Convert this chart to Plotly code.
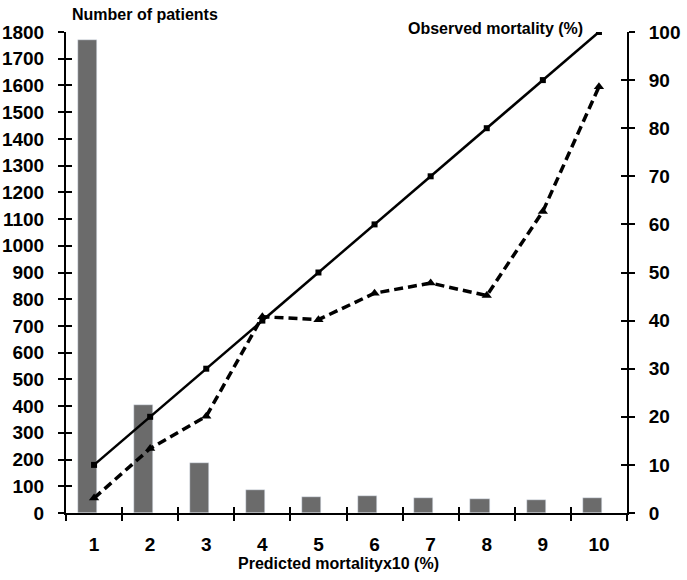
import plotly.graph_objects as go

categories = ["1", "2", "3", "4", "5", "6", "7", "8", "9", "10"]
patients = [1770, 404, 187, 87, 60, 65, 57, 53, 50, 57]
predicted = [10, 20, 30, 40, 50, 60, 70, 80, 90, 100]
observed = [3.1, 13.4, 20.1, 40.8, 40.2, 45.7, 47.8, 45.2, 62.7, 88.6]

left_ticks = list(range(0, 1801, 100))
right_ticks = list(range(0, 101, 10))

FONT = "Liberation Sans, Arial, sans-serif"
tickfont = dict(family=FONT, size=19, color="black", weight="bold")

fig = go.Figure()
fig.add_trace(go.Bar(x=categories, y=patients, marker_color="#6b6b6b",
                     width=0.34, offset=-0.29, xaxis="x", yaxis="y",
                     showlegend=False, hoverinfo="skip"))
fig.add_trace(go.Scatter(x=categories, y=predicted, mode="lines+markers",
                         line=dict(color="black", width=2.5),
                         marker=dict(symbol="square", size=6, color="black"),
                         xaxis="x", yaxis="y2", showlegend=False))
fig.add_trace(go.Scatter(x=categories, y=observed, mode="lines+markers",
                         line=dict(color="black", width=3.5, dash="9px,5px"),
                         marker=dict(symbol="triangle-up", size=9, color="black"),
                         xaxis="x", yaxis="y2", showlegend=False))
# invisible traces to carry the inner-tick overlay axes
fig.add_trace(go.Scatter(x=categories, y=patients, mode="none", xaxis="x2", yaxis="y3",
                         showlegend=False, hoverinfo="skip"))
fig.add_trace(go.Scatter(x=categories, y=predicted, mode="none", xaxis="x2", yaxis="y4",
                         showlegend=False, hoverinfo="skip"))

common_x = dict(type="category", categoryorder="array", categoryarray=categories,
                range=[-0.5, 9.5], tickson="boundaries", ticklen=6, tickwidth=2,
                tickcolor="black", showgrid=False, zeroline=False, automargin=False)
fig.update_layout(
    width=687, height=580,
    margin=dict(l=66, r=60, t=32, b=67),
    paper_bgcolor="white", plot_bgcolor="white",
    font=dict(family=FONT, color="black"),
    xaxis=dict(**common_x, ticks="outside", showline=True, linecolor="black",
               linewidth=2, tickfont=tickfont, ticklabelstandoff=13),
    xaxis2=dict(**common_x, ticks="inside", overlaying="x", anchor="y",
                showticklabels=False, showline=False),
    yaxis=dict(range=[0, 1800], tickvals=left_ticks, ticks="outside", ticklen=6,
               tickwidth=2, tickcolor="black", showline=True, linecolor="black",
               linewidth=2, showgrid=False, zeroline=False, tickfont=tickfont,
               ticklabelstandoff=10, automargin=False),
    yaxis2=dict(range=[0, 100], tickvals=right_ticks, ticks="outside", ticklen=6,
                tickwidth=2, tickcolor="black", showline=True, linecolor="black",
                linewidth=2, showgrid=False, zeroline=False, tickfont=tickfont,
                overlaying="y", side="right", anchor="x", ticklabelstandoff=10,
                automargin=False),
    yaxis3=dict(range=[0, 1800], tickvals=left_ticks, ticks="inside", ticklen=6,
                tickwidth=2, tickcolor="black", showticklabels=False, showgrid=False,
                zeroline=False, overlaying="y", side="left", anchor="x", automargin=False),
    yaxis4=dict(range=[0, 100], tickvals=right_ticks, ticks="inside", ticklen=6,
                tickwidth=2, tickcolor="black", showticklabels=False, showgrid=False,
                zeroline=False, overlaying="y", side="right", anchor="x", automargin=False),
    bargap=0,
)

title_font = dict(family=FONT, size=16, color="black", weight="bold")
fig.add_annotation(text="Number of patients", xref="paper", yref="paper",
                   x=0.007, y=1.036, xanchor="left", yanchor="middle",
                   showarrow=False, font=title_font)
fig.add_annotation(text="Observed mortality (%)", xref="paper", yref="paper",
                   x=0.766, y=1.008, xanchor="center", yanchor="middle",
                   showarrow=False, font=title_font)
fig.add_annotation(text="Predicted mortalityx10 (%)", xref="paper", yref="paper",
                   x=0.485, y=-0.105, xanchor="center", yanchor="middle",
                   showarrow=False, font=title_font)

fig.write_html("out.html", config={"displayModeBar": False},
               post_script="document.body.style.margin='0';")
